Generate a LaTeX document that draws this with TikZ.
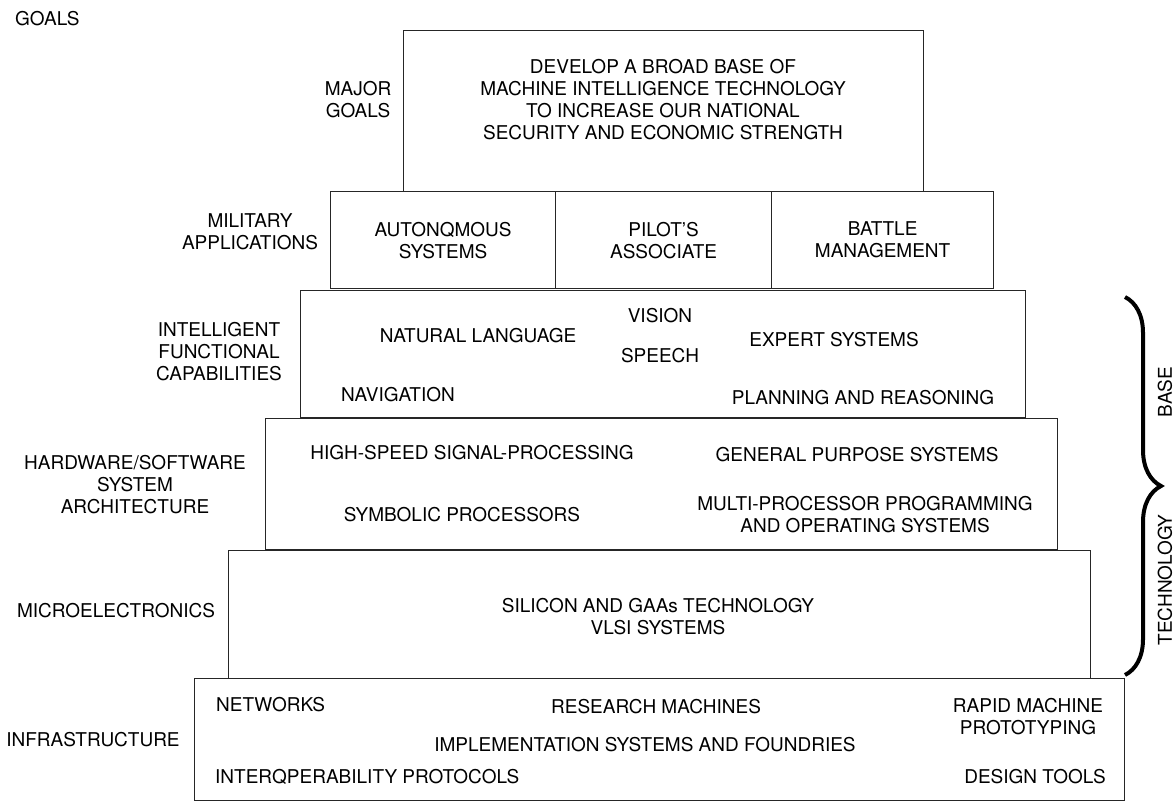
\documentclass[tikz,border=0pt]{standalone}
\usepackage{fontspec}
\setmainfont{TeX Gyre Heros}
\usetikzlibrary{decorations.pathreplacing}
\newcommand{\chartfont}{\fontsize{19}{22}\selectfont}
\tikzset{
  tier/.style={draw=black!85, line width=1.2pt, anchor=north west, inner sep=0pt},
  txt/.style={font=\chartfont, align=center, inner sep=0pt},
  bracemark/.style={decorate, decoration={brace, amplitude=36pt}, line width=4pt}
}

\begin{document}
\begin{tikzpicture}[x=1pt, y=-1pt]
    \useasboundingbox (0,0) rectangle (1174,803);
    % tiers of the pyramid
    \node[tier, minimum width=520, minimum height=161] (goalbox) at (403,30) {};
    \node[tier, minimum width=225, minimum height=97] (autobox) at (330,191) {};
    \node[tier, minimum width=216, minimum height=97] (pilotbox) at (555,191) {};
    \node[tier, minimum width=222, minimum height=97] (battlebox) at (771,191) {};
    \node[tier, minimum width=725, minimum height=127] (funcbox) at (300,290) {};
    \node[tier, minimum width=792, minimum height=131] (archbox) at (265,418) {};
    \node[tier, minimum width=862, minimum height=128] (microbox) at (228,550) {};
    \node[tier, minimum width=930, minimum height=122] (infrabox) at (194,678) {};
    % row labels
    \node[txt, anchor=west] (goalshead) at (15,19) {GOALS};
    \node[txt] (majorlbl) at (358,100) {MAJOR\\GOALS};
    \node[txt] (militarylbl) at (250,232) {MILITARY\\APPLICATIONS};
    \node[txt] (funclbl) at (219,352) {INTELLIGENT\\FUNCTIONAL\\CAPABILITIES};
    \node[txt] (archlbl) at (135,485) {HARDWARE/SOFTWARE\\SYSTEM\\ARCHITECTURE};
    \node[txt] (microlbl) at (116,611) {MICROELECTRONICS};
    \node[txt] (infralbl) at (93,740) {INFRASTRUCTURE};
    % box contents
    \node[txt] (goaltext) at (663,100) {DEVELOP A BROAD BASE OF\\MACHINE INTELLIGENCE TECHNOLOGY\\TO INCREASE OUR NATIONAL\\SECURITY AND ECONOMIC STRENGTH};
    \node[txt] (autotext) at (autobox.center) {AUTONQMOUS\\SYSTEMS};
    \node[txt] (pilottext) at (pilotbox.center) {PILOT'S\\ASSOCIATE};
    \node[txt] (battletext) at (battlebox.center) {BATTLE\\MANAGEMENT};
    \node[txt] (natlang) at (478,336) {NATURAL LANGUAGE};
    \node[txt] (vision) at (660,316) {VISION};
    \node[txt] (speech) at (660,356) {SPEECH};
    \node[txt] (expert) at (834,340) {EXPERT SYSTEMS};
    \node[txt] (navig) at (398,395) {NAVIGATION};
    \node[txt] (planning) at (863,398) {PLANNING AND REASONING};
    \node[txt] (signalproc) at (472,453) {HIGH-SPEED SIGNAL-PROCESSING};
    \node[txt] (genpurpose) at (857,455) {GENERAL PURPOSE SYSTEMS};
    \node[txt] (symbolic) at (462,515) {SYMBOLIC PROCESSORS};
    \node[txt] (multiproc) at (865,515) {MULTI-PROCESSOR PROGRAMMING\\AND OPERATING SYSTEMS};
    \node[txt] (silicon) at (658,617) {SILICON AND GAAs TECHNOLOGY\\VLSI SYSTEMS};
    \node[txt, anchor=west] (networks) at (216,705) {NETWORKS};
    \node[txt] (research) at (656,707) {RESEARCH MACHINES};
    \node[txt] (foundries) at (645,745) {IMPLEMENTATION SYSTEMS AND FOUNDRIES};
    \node[txt, anchor=west] (protocols) at (215,777) {INTERQPERABILITY PROTOCOLS};
    \node[txt] (rapid) at (1028,717) {RAPID MACHINE\\PROTOTYPING};
    \node[txt] (designtools) at (1035,777) {DESIGN TOOLS};
    % technology base brace
    \coordinate (bracetop) at (1125,297);
    \coordinate (bracebot) at (1125,675);
    \draw[bracemark] (bracetop) -- (bracebot);
    \node[txt, rotate=90] (baselbl) at (1165,392) {BASE};
    \node[txt, rotate=90] (techlbl) at (1165,580) {TECHNOLOGY};
\end{tikzpicture}
\end{document}
